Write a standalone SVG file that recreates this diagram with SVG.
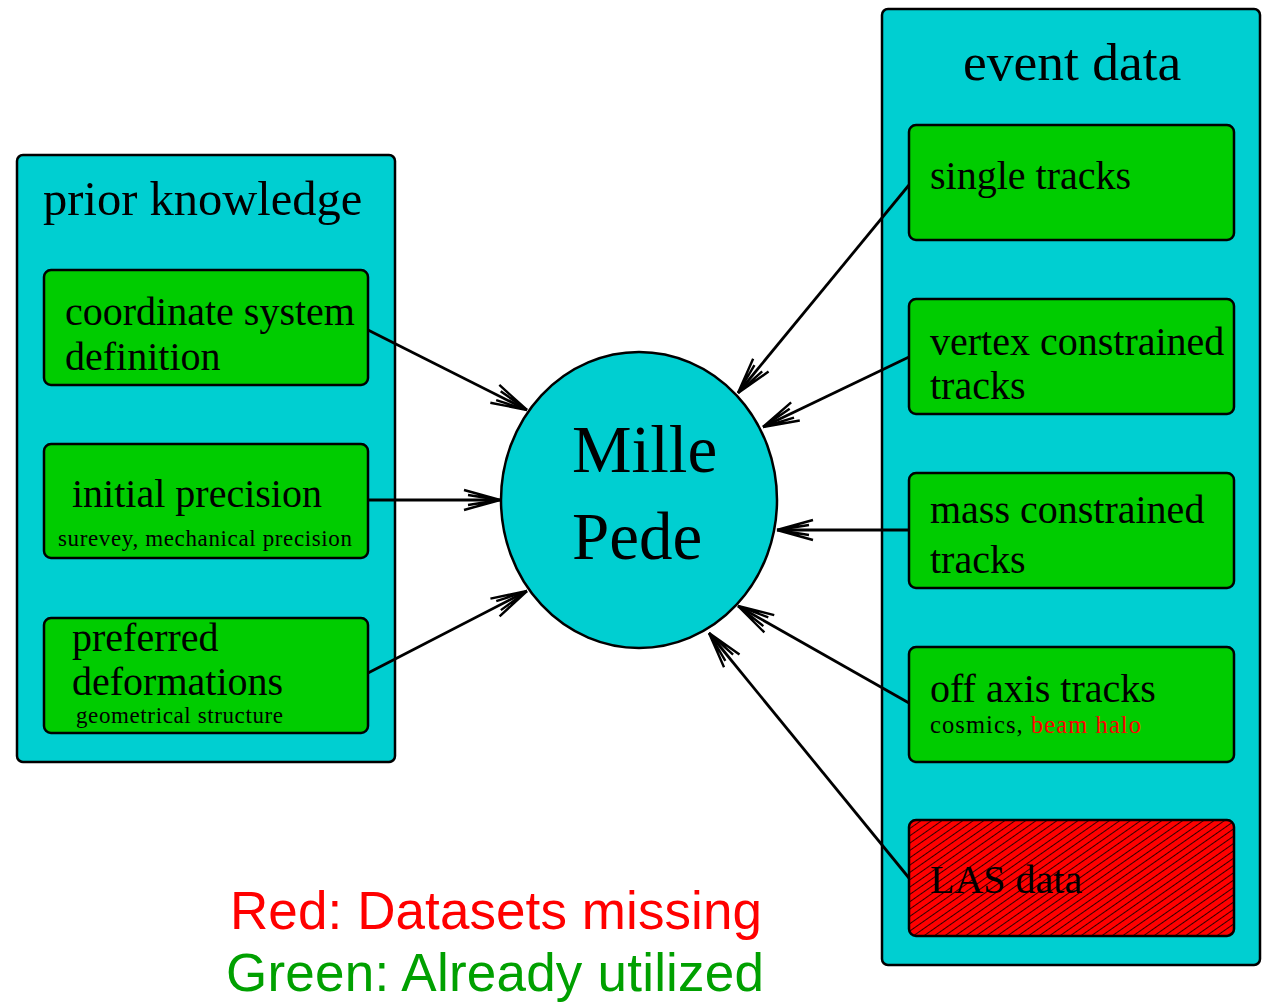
<svg xmlns="http://www.w3.org/2000/svg" width="1263" height="1003" viewBox="0 0 1263 1003">
<style>
.panel{fill:#00cfd1;stroke:#000;stroke-width:2.5}
.box{fill:#00cc00;stroke:#000;stroke-width:2.5}
.t{font-family:"Liberation Serif","Times New Roman",serif;fill:#000}
.big{font-size:40px}
.small{font-size:23px}
.conn{stroke:#000;stroke-width:2.8;fill:none;marker-end:url(#arr)}
.leg{font-family:"Liberation Sans",Arial,sans-serif;font-size:53px}
</style>
<defs>
<marker id="arr" markerUnits="userSpaceOnUse" markerWidth="50" markerHeight="30" viewBox="-40 -15 45 30" refX="0" refY="0" orient="auto">
<path d="M0,0 L-36,-10 M0,0 L-32,-5 M0,0 L-36,10 M0,0 L-32,5" stroke="#000" stroke-width="2.4" fill="none"/>
</marker>
<pattern id="hatch" patternUnits="userSpaceOnUse" width="6" height="6" patternTransform="rotate(-35)">
<rect width="6" height="6" fill="#ff0000"/>
<line x1="0" y1="0" x2="6" y2="0" stroke="#000" stroke-width="1.6"/>
</pattern>
</defs>

<g id="prior-knowledge">
<rect class="panel" x="17" y="155" width="378" height="607" rx="6"/>
<text class="t" x="43" y="215" font-size="48.5">prior knowledge</text>
</g>
<g id="coordinate-system">
<rect class="box" x="44" y="270" width="324" height="115" rx="7"/>
<text class="t big" x="65" y="325">coordinate system</text>
<text class="t big" x="65" y="370">definition</text>
</g>
<g id="initial-precision">
<rect class="box" x="44" y="444" width="324" height="114" rx="7"/>
<text class="t big" x="72" y="507">initial precision</text>
<text class="t small" x="58" y="546" textLength="294">surevey, mechanical precision</text>
</g>
<g id="preferred-deformations">
<rect class="box" x="44" y="618" width="324" height="115" rx="7"/>
<text class="t big" x="72" y="651">preferred</text>
<text class="t big" x="72" y="695">deformations</text>
<text class="t small" x="76" y="723" textLength="207">geometrical structure</text>
</g>

<g id="event-data">
<rect class="panel" x="882" y="9" width="378" height="956" rx="6"/>
<text class="t" x="963" y="80" font-size="53.5">event data</text>
</g>
<g id="single-tracks">
<rect class="box" x="909" y="125" width="325" height="115" rx="7"/>
<text class="t big" x="930" y="189">single tracks</text>
</g>
<g id="vertex-constrained">
<rect class="box" x="909" y="299" width="325" height="115" rx="7"/>
<text class="t big" x="930" y="355">vertex constrained</text>
<text class="t big" x="930" y="399">tracks</text>
</g>
<g id="mass-constrained">
<rect class="box" x="909" y="473" width="325" height="115" rx="7"/>
<text class="t big" x="930" y="523">mass constrained</text>
<text class="t big" x="930" y="573">tracks</text>
</g>
<g id="off-axis">
<rect class="box" x="909" y="647" width="325" height="115" rx="7"/>
<text class="t big" x="930" y="702">off axis tracks</text>
<text class="t" x="930" y="733" font-size="24.5" textLength="211">cosmics, <tspan fill="#ff0000">beam halo</tspan></text>
</g>
<g id="las-data">
<rect x="909" y="820" width="325" height="116" rx="7" fill="url(#hatch)" stroke="#000" stroke-width="2.5"/>
<text class="t big" x="930" y="893">LAS data</text>
</g>

<g id="millepede">
<ellipse cx="639" cy="500" rx="138" ry="148" fill="#00cfd1" stroke="#000" stroke-width="2.5"/>
<text class="t" x="572" y="472" font-size="67">Mille</text>
<text class="t" x="572" y="559" font-size="67">Pede</text>
</g>

<g id="connectors">
<line class="conn" x1="368" y1="330" x2="527" y2="410"/>
<line class="conn" x1="368" y1="500" x2="500" y2="500"/>
<line class="conn" x1="368" y1="673" x2="527" y2="591"/>
<line class="conn" x1="909" y1="185" x2="738" y2="393"/>
<line class="conn" x1="909" y1="357" x2="763" y2="427"/>
<line class="conn" x1="909" y1="530" x2="777" y2="530"/>
<line class="conn" x1="909" y1="703" x2="738" y2="606"/>
<line class="conn" x1="909" y1="878" x2="709" y2="633"/>
</g>

<g id="legend">
<text class="leg" x="230" y="929" fill="#ff0000" textLength="532">Red: Datasets missing</text>
<text class="leg" x="226" y="991" fill="#00a000" textLength="538">Green: Already utilized</text>
</g>
</svg>
